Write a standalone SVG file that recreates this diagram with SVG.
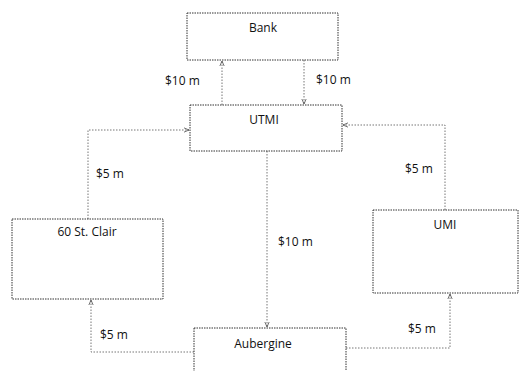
<svg xmlns="http://www.w3.org/2000/svg" width="519" height="371" viewBox="0 0 519 371">
<style>
.box{fill:#fff;stroke:#333;stroke-width:1;stroke-dasharray:1.5 1}
.ln{fill:none;stroke:#666;stroke-width:0.9;stroke-dasharray:1.5 1.5}
text{font-family:"Open Sans","Liberation Sans",sans-serif;font-size:12px;fill:#111}
.c{text-anchor:middle}
</style>
<defs>
<marker id="ah" viewBox="0 0 8 8" refX="7" refY="4" markerWidth="6" markerHeight="6" orient="auto" markerUnits="userSpaceOnUse">
<path d="M0,1 L7,4 L0,7" fill="none" stroke="#444" stroke-width="1"/>
</marker>
</defs>
<rect width="519" height="371" fill="#fff"/>
<g id="connectors">
<path class="ln" d="M222,105 V61" marker-end="url(#ah)"/>
<path class="ln" d="M304,60 V104" marker-end="url(#ah)"/>
<path class="ln" d="M88,219 V130 H189" marker-end="url(#ah)"/>
<path class="ln" d="M445,210 V125 H343" marker-end="url(#ah)"/>
<path class="ln" d="M267,151 V327" marker-end="url(#ah)"/>
<path class="ln" d="M194,352 H91 V300" marker-end="url(#ah)"/>
<path class="ln" d="M346,348 H450 V294" marker-end="url(#ah)"/>
<text x="165" y="85">$10 m</text>
<text x="316" y="84">$10 m</text>
<text x="96" y="178">$5 m</text>
<text x="405" y="173">$5 m</text>
<text x="278" y="246">$10 m</text>
<text x="100" y="339">$5 m</text>
<text x="408" y="333">$5 m</text>
</g>
<g id="bank"><rect class="box" x="187" y="13" width="151" height="47"/><text class="c" x="263" y="32">Bank</text></g>
<g id="utmi"><rect class="box" x="190" y="105" width="152" height="46"/><text class="c" x="264" y="124">UTMI</text></g>
<g id="stclair"><rect class="box" x="12" y="219" width="151" height="80"/><text class="c" x="87" y="236">60 St. Clair</text></g>
<g id="umi"><rect class="box" x="373" y="210" width="145" height="83"/><text class="c" x="445" y="229">UMI</text></g>
<g id="aubergine"><rect class="box" x="194" y="328" width="152" height="60"/><text class="c" x="263" y="348">Aubergine</text></g>
</svg>
